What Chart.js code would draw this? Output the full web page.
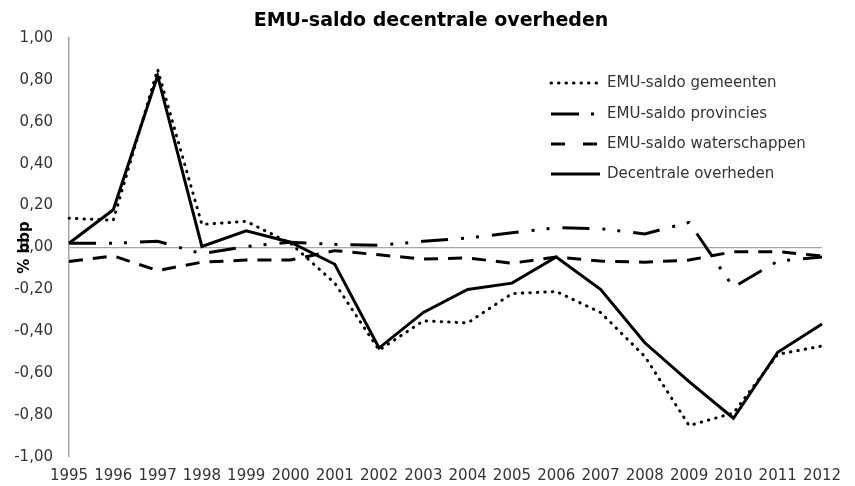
<!DOCTYPE html>
<html>
<head>
<meta charset="utf-8">
<script src="https://cdn.jsdelivr.net/npm/chart.js@4/dist/chart.umd.min.js"></script>
<style>
  html, body { margin: 0; padding: 0; background: #fff; }
  #wrap { width: 855px; height: 486px; }
</style>
</head>
<body>
<div id="wrap"><canvas id="c" width="855" height="486"></canvas></div>
<script>
const years = ['1995','1996','1997','1998','1999','2000','2001','2002','2003','2004','2005','2006','2007','2008','2009','2010','2011','2012'];
const gemeenten   = [0.14, 0.13, 0.85, 0.11, 0.125, 0.02, -0.17, -0.49, -0.35, -0.36, -0.22, -0.21, -0.31, -0.52, -0.85, -0.79, -0.51, -0.47];
const provincies  = [0.02, 0.02, 0.03, -0.03, 0.005, 0.025, 0.015, 0.01, 0.03, 0.045, 0.07, 0.095, 0.09, 0.065, 0.12, -0.19, -0.065, -0.045];
const waterschappen = [-0.067, -0.04, -0.11, -0.07, -0.06, -0.06, -0.015, -0.035, -0.055, -0.05, -0.075, -0.045, -0.065, -0.07, -0.06, -0.02, -0.02, -0.04];
const decentraal  = [0.02, 0.18, 0.82, 0.005, 0.08, 0.025, -0.08, -0.48, -0.31, -0.20, -0.17, -0.045, -0.20, -0.455, -0.64, -0.815, -0.50, -0.365];
const yTickLabels = ['-1,00','-0,80','-0,60','-0,40','-0,20','0,00','0,20','0,40','0,60','0,80','1,00'];
const seriesNames = ['EMU-saldo gemeenten','EMU-saldo provincies','EMU-saldo waterschappen','Decentrale overheden'];
const chartTitle = 'EMU-saldo decentrale overheden';
const yAxisTitle = '% bbp';

const FONT = "'DejaVu Sans', Verdana, sans-serif";

const customDraw = {
  id: 'customDraw',
  afterDraw(chart) {
    const ctx = chart.ctx;
    const y = chart.scales.y;
    // chart title
    ctx.save();
    ctx.fillStyle = '#000';
    ctx.font = 'bold 19px ' + FONT;
    ctx.textAlign = 'center';
    ctx.textBaseline = 'middle';
    ctx.fillText(chartTitle, 431, 21);
    ctx.restore();
    // y-axis title
    ctx.save();
    ctx.fillStyle = '#000';
    ctx.font = 'bold 15px ' + FONT;
    ctx.textAlign = 'center';
    ctx.textBaseline = 'middle';
    ctx.translate(25, y.getPixelForValue(0));
    ctx.rotate(-Math.PI / 2);
    ctx.fillText(yAxisTitle, 0, 0);
    ctx.restore();
    // legend
    const rows = [83, 114, 144, 174];
    chart.data.datasets.forEach((ds, i) => {
      const ry = rows[i];
      ctx.save();
      ctx.strokeStyle = ds.borderColor;
      ctx.lineWidth = ds.borderWidth;
      ctx.lineCap = ds.borderCapStyle || 'butt';
      ctx.setLineDash(ds.legendDash || ds.borderDash || []);
      ctx.beginPath();
      ctx.moveTo(551, ry);
      ctx.lineTo(600, ry);
      ctx.stroke();
      ctx.setLineDash([]);
      ctx.fillStyle = '#333';
      ctx.font = '15px ' + FONT;
      ctx.textAlign = 'left';
      ctx.textBaseline = 'middle';
      ctx.fillText(ds.label, 607, ry);
      ctx.restore();
    });
  }
};

new Chart(document.getElementById('c'), {
  type: 'line',
  data: {
    labels: years,
    datasets: [
      { label: seriesNames[0], data: gemeenten, borderColor: '#000', borderWidth: 3, borderCapStyle: 'round', borderDash: [0.5, 7], pointRadius: 0, tension: 0, fill: false },
      { label: seriesNames[1], data: provincies, borderColor: '#000', borderWidth: 3, borderDash: [27, 13, 3, 12, 3, 13], legendDash: [28, 12, 3, 20], pointRadius: 0, tension: 0, fill: false },
      { label: seriesNames[2], data: waterschappen, borderColor: '#000', borderWidth: 3, borderDash: [14, 10], legendDash: [14, 18], pointRadius: 0, tension: 0, fill: false },
      { label: seriesNames[3], data: decentraal, borderColor: '#000', borderWidth: 3, pointRadius: 0, tension: 0, fill: false }
    ]
  },
  options: {
    responsive: false,
    animation: false,
    devicePixelRatio: 1,
    layout: { padding: { left: 0, right: 33, top: 38, bottom: 0 } },
    plugins: {
      legend: { display: false },
      tooltip: { enabled: false },
      title: { display: false }
    },
    scales: {
      x: {
        offset: false,
        afterFit(scale) { scale.height = 29; },
        grid: { display: false, drawTicks: false },
        border: { display: false },
        ticks: { color: '#333', font: { family: FONT, size: 15 }, padding: 10, maxRotation: 0, autoSkip: false }
      },
      y: {
        min: -1, max: 1,
        afterFit(scale) { scale.width = 69; },
        grid: {
          drawTicks: false,
          color: (c) => (c.tick && c.tick.value === 0 ? '#a6a6a6' : 'rgba(0,0,0,0)'),
          lineWidth: 1.2
        },
        border: { display: true, color: '#a6a6a6', width: 1.5 },
        ticks: {
          stepSize: 0.2,
          color: '#333',
          padding: 16,
          font: { family: FONT, size: 15 },
          callback: (v, i) => yTickLabels[i]
        }
      }
    }
  },
  plugins: [customDraw]
});
</script>
</body>
</html>
